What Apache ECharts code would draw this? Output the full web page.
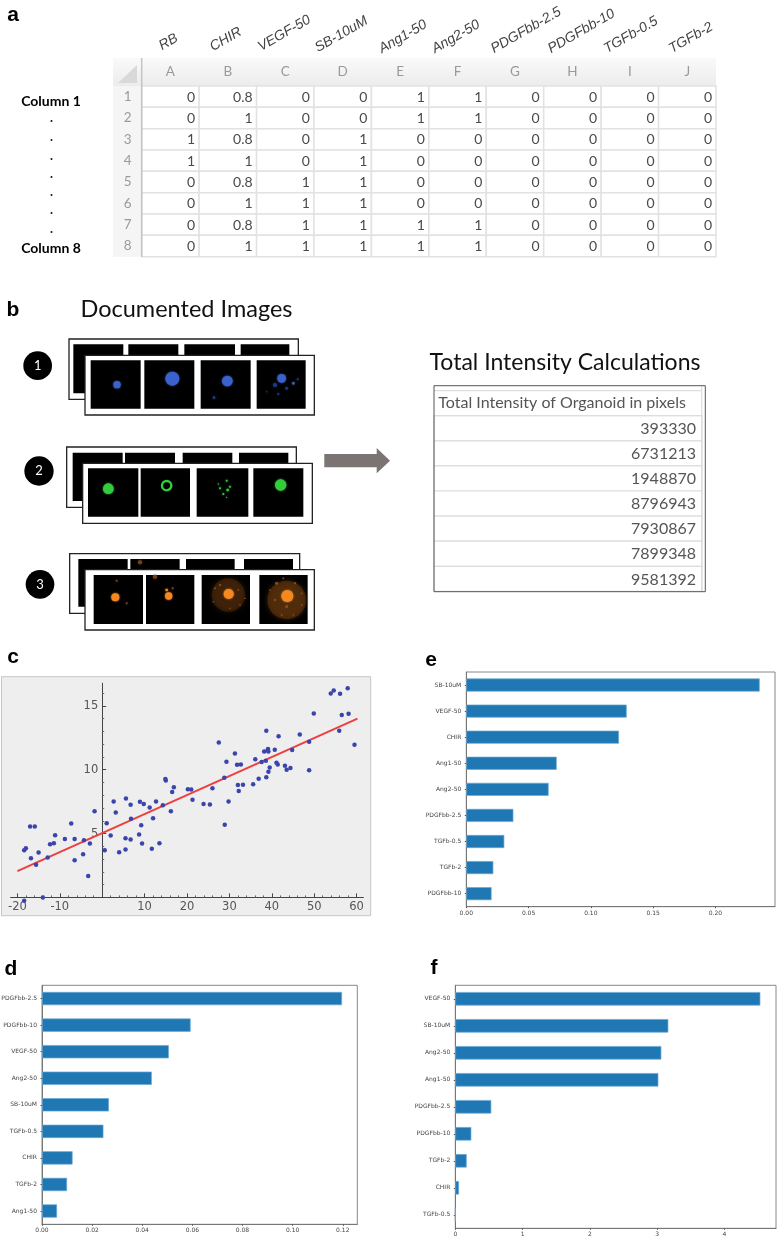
<!DOCTYPE html>
<html><head><meta charset="utf-8">
<style>html,body{margin:0;padding:0;background:#fff}#c{width:777px;height:1239px;filter:blur(0.35px)}</style>
<script src="https://cdn.jsdelivr.net/npm/echarts@6/dist/echarts.min.js"></script>
</head><body><div id="c"></div>
<script>
// ---------- data ----------
const columnLetters = ['A','B','C','D','E','F','G','H','I','J'];
const rowNumbers = ['1','2','3','4','5','6','7','8'];
const factorNames = ['RB','CHIR','VEGF-50','SB-10uM','Ang1-50','Ang2-50','PDGFbb-2.5','PDGFbb-10','TGFb-0.5','TGFb-2'];
const row1 = [0,0.8,0,0,1,1,0,0,0,0];
const row2 = [0,1,0,0,1,1,0,0,0,0];
const row3 = [1,0.8,0,1,0,0,0,0,0,0];
const row4 = [1,1,0,1,0,0,0,0,0,0];
const row5 = [0,0.8,1,1,0,0,0,0,0,0];
const row6 = [0,1,1,1,0,0,0,0,0,0];
const row7 = [0,0.8,1,1,1,1,0,0,0,0];
const row8 = [0,1,1,1,1,1,0,0,0,0];
const intensityValues = [393330,6731213,1948870,8796943,7930867,7899348,9581392];

const scatterX = [-18.4,-18.0,-17.0,-15.9,-16.8,-15.6,-15.0,-12.85,-12.3,-11.4,-11.1,-8.8,-7.3,-6.5,-6.5,-4.3,-4.5,-3.3,-2.9,-1.8,-14.0,-18.4,0.6,1.06,2.0,2.7,3.2,4.0,5.6,5.5,5.5,6.7,6.8,6.7,8.9,9.8,8.7,9.2,9.4,11.2,12.0,11.7,12.7,13.5,14.3,14.9,15.0,16.2,16.5,16.9,20.2,21.0,21.3,23.9,25.4,26.0,27.5,28.9,28.8,29.3,29.8,31.3,31.8,32.7,32.0,32.2,33.2,35.6,36.1,36.9,37.6,38.2,38.6,38.7,38.7,39.0,39.1,39.2,39.2,39.5,40.7,41.1,41.4,41.6,43.1,43.5,44.4,44.8,46.6,48.8,48.8,49.9,53.9,54.6,56.1,57.9,55.9,56.5,58.1,59.5];
const scatterY = [3.69,3.85,5.55,5.55,3.07,2.55,3.51,3.12,4.16,4.24,4.87,4.58,5.78,4.58,2.91,4.48,3.38,1.68,4.22,6.75,0.0,-0.27,3.69,5.81,4.84,7.5,6.64,3.54,7.74,4.63,3.75,7.25,6.15,4.53,7.48,7.32,4.92,5.65,4.22,7.04,6.2,3.8,7.5,4.24,7.22,9.26,9.15,6.75,8.26,8.63,8.47,8.45,7.64,7.32,7.27,8.55,12.13,5.68,9.36,10.61,7.5,11.27,10.38,10.4,8.79,8.32,8.81,8.86,10.82,9.28,10.59,11.42,10.69,13.04,9.41,11.5,11.61,11.42,9.83,10.17,11.55,10.54,10.4,12.62,10.3,9.99,10.12,11.53,12.75,12.18,9.96,14.4,15.97,16.2,15.94,16.38,13.04,14.27,14.37,11.94];
const fitLine = [[-20,2.05],[60.2,14.0]];
const scatterXTicks = [-20,-10,0,10,20,30,40,50,60];
const scatterYTicks = [5,10,15];
const scatterXMinor = [-18,-16,-14,-12,-8,-6,-4,-2,2,4,6,8,12,14,16,18,22,24,26,28,32,34,36,38,42,44,46,48,52,54,56,58];
const scatterYMinor = [1,2,3,4,6,7,8,9,11,12,13,14,16];

const panelENames = ['SB-10uM','VEGF-50','CHIR','Ang1-50','Ang2-50','PDGFbb-2.5','TGFb-0.5','TGFb-2','PDGFbb-10'];
const panelEValues = [0.2356,0.1288,0.1226,0.0726,0.0661,0.0378,0.0305,0.0217,0.0203];
const panelETicks = [0,0.05,0.10,0.15,0.20];
const panelDNames = ['PDGFbb-2.5','PDGFbb-10','VEGF-50','Ang2-50','SB-10uM','TGFb-0.5','CHIR','TGFb-2','Ang1-50'];
const panelDValues = [0.1197,0.0593,0.0506,0.0438,0.0267,0.0245,0.0122,0.0100,0.0060];
const panelDTicks = [0,0.02,0.04,0.06,0.08,0.10,0.12];
const panelFNames = ['VEGF-50','SB-10uM','Ang2-50','Ang1-50','PDGFbb-2.5','PDGFbb-10','TGFb-2','CHIR','TGFb-0.5'];
const panelFValues = [4.535,3.167,3.063,3.019,0.535,0.238,0.169,0.055,0];
const panelFTicks = [0,1,2,3,4];

// ---------- helpers ----------
const SANS = '"Liberation Sans",Arial,sans-serif';
const CAL = 'Lato,"Open Sans",sans-serif';
const tableRows = [row1,row2,row3,row4,row5,row6,row7,row8];
const tableData = [];
tableRows.forEach((r,ri)=>r.forEach((v,ci)=>tableData.push([ci,ri,v])));
const cellRender = (font,pad,stroke,lw,fill)=>(params,api)=>{
  const c = api.coord([api.value(0),api.value(1)]);
  const s = api.size([1,1]);
  return {type:'group',children:[
    {type:'rect',shape:{x:c[0]-s[0]/2,y:c[1]-s[1]/2,width:s[0],height:s[1]},style:{fill:'#fff',stroke,lineWidth:lw}},
    {type:'text',x:c[0]+s[0]/2-pad,y:c[1]+0.5,style:{text:String(api.value(2)),align:'right',verticalAlign:'middle',font,fill}}
  ]};
};

const g = [];
const rect=(x,y,w,h,fill,stroke,lw,extra)=>g.push(Object.assign({type:'rect',silent:true,shape:{x,y,width:w,height:h},style:{fill,stroke:stroke||null,lineWidth:lw||0},z:-1},extra||{}));
const text=(t,x,y,font,fill,align,extra)=>g.push(Object.assign({type:'text',silent:true,x,y,style:{text:t,font,fill:fill||'#000',align:align||'left',verticalAlign:'middle'},z:5},extra||{}));

// panel letters
[['a',13,15],['b',13,310],['c',13,657],['d',11,969],['e',431,660],['f',434,968]].forEach(p=>text(p[0],p[1],p[2],'bold 21px '+SANS,'#000','center'));

// panel a: labels and spreadsheet chrome
text('Column 1',51,101,'bold 14px '+CAL,'#000','center');
text('Column 8',51,248,'bold 14px '+CAL,'#000','center');
[121,140,159,177,195,213,232].forEach(y=>g.push({type:'circle',silent:true,shape:{cx:51.5,cy:y,r:1},style:{fill:'#111'},z:5}));
const factorStart = [[160,47],[211,48],[259,48],[316,49],[380,50],[433,50],[492,50],[549,50],[605,50],[670,50]];
factorNames.forEach((n,i)=>text(n,factorStart[i][0],factorStart[i][1],'italic 14px '+SANS,'#444','left',{rotation:Math.PI/6}));
rect(113,58,603,28,{type:'linear',x:0,y:0,x2:0,y2:1,colorStops:[{offset:0,color:'#fafafa'},{offset:1,color:'#ececec'}]});
rect(113,86,28.7,170.7,'#f5f5f5');
g.push({type:'polygon',silent:true,shape:{points:[[118,83],[137,65],[137,83]]},style:{fill:'#d9d9d9'},z:-1});
g.push({type:'line',silent:true,shape:{x1:141.7,y1:58,x2:141.7,y2:257},style:{stroke:'#c4c4c4',lineWidth:1.5},z:4});

// panel b
text('Documented Images',186.5,309,'23.5px '+CAL,'#111','center');
const frame=(x,y,w,h)=>rect(x,y,w,h,'#fff','#222',1.3,{z:1});
const sq=(x1,x2,y1,y2,z)=>rect(x1/3,290+y1/3,(x2-x1)/3,(y2-y1)/3,'#000',null,0,{z});
const blob=(x,y,r,color,z,blur,op)=>g.push({type:'circle',silent:true,shape:{cx:x/3,cy:290+y/3,r:r/3},style:{fill:color,shadowBlur:blur||2,shadowColor:color,opacity:op==null?1:op},z:z||3});
const stack=(back,front,backSq,backY,frontSq,frontY)=>{
  frame(back[0]/3,290+back[2]/3,(back[1]-back[0])/3,(back[3]-back[2])/3);
  backSq.forEach(s=>sq(s[0],s[1],backY[0],backY[1],1.5));
  rect(front[0]/3,290+front[2]/3,(front[1]-front[0])/3,(front[3]-front[2])/3,'#fff','#222',1.3,{z:2});
  frontSq.forEach(s=>sq(s[0],s[1],frontY[0],frontY[1],2.5));
};
stack([207,895,147,328],[255,943,196,375],[[220,370],[385,535],[553,705],[722,868]],[163,310],[[272,422],[433,583],[602,752],[770,917]],[211,356]);
stack([200,889,471,652],[248,937,520,700],[[218,368],[375,525],[548,697],[717,865]],[488,633],[[264,415],[422,570],[590,745],[760,910]],[535,680]);
stack([209,899,791,970],[255,943,839,1020],[[235,383],[391,539],[558,704],[732,879]],[807,950],[[281,429],[438,583],[605,750],[778,923]],[855,1002]);
const BLUE='#3b62cc',DBLUE='#1d3a86',GREEN='#33cc3a',ORG='#f5881f',DORG='#7a4210';
[[351,284,11,BLUE],[517,266,21,BLUE],[682,273,16,BLUE],[642,323,4,DBLUE],[845,265,13,BLUE],[825,285,6,DBLUE],[880,280,4,BLUE],[893,268,3,DBLUE],[860,295,4,DBLUE],[835,312,3,DBLUE],[800,305,2,DBLUE]].forEach(b=>blob(b[0],b[1],b[2],b[3]));
[[325,596,16,GREEN],[842,585,17,GREEN],[660,595,3,GREEN],[680,572,3,GREEN],[683,600,4,GREEN],[670,612,3,GREEN],[690,590,3,GREEN],[680,622,2,GREEN],[655,582,2,GREEN]].forEach(b=>blob(b[0],b[1],b[2],b[3]));
g.push({type:'circle',silent:true,shape:{cx:500/3,cy:290+587/3,r:14/3},style:{fill:'rgba(0,0,0,0)',stroke:GREEN,lineWidth:2.4},z:3});
[[685,915,50,DORG,0.3],[860,930,58,DORG,0.42]].forEach(b=>blob(b[0],b[1],b[2],b[3],3,5,b[4]));
[[645,895,2.5],[660,885,3],[715,900,2.5],[735,925,2],[640,935,2],[690,955,2],[720,945,2],[830,880,4],[850,865,2.5],[885,880,3],[905,910,2.5],[905,945,2.5],[880,975,2],[845,975,2.5],[825,930,3],[810,900,2],[860,950,4]].forEach(d=>blob(d[0],d[1],d[2],'#8a4d18',3.2,1));
[[346,922,12,ORG],[506,918,11,ORG],[500,900,4,ORG],[518,895,3,DORG],[465,860,6,DORG],[350,872,3,DORG],[380,940,3,DORG],[686,912,15,ORG],[862,918,18,ORG],[420,817,6,DORG]].forEach(b=>blob(b[0],b[1],b[2],b[3],3.5));
[[1,113,227,43],[2,117,543,44],[3,120,883,43]].forEach(c=>{
  g.push({type:'circle',silent:true,shape:{cx:c[1]/3,cy:290+c[2]/3,r:c[3]/3},style:{fill:'#000'},z:4});
  text(String(c[0]),c[1]/3,290+c[2]/3,'13px '+CAL,'#fff','center');
});
g.push({type:'polygon',silent:true,shape:{points:[[324.3,454],[376.7,454],[376.7,448],[390,460.7],[376.7,473.3],[376.7,467.3],[324.3,467.3]]},style:{fill:'#7b7473'},z:2});

text('Total Intensity Calculations',565,362.5,'23px '+CAL,'#111','center');
rect(434,390.5,268,25.2,'#fff');
text('Total Intensity of Organoid in pixels',438.3,403.3,'16px '+CAL,'#555');
[390.7,415.7].forEach(y=>g.push({type:'line',silent:true,shape:{x1:434,y1:y,x2:702,y2:y},style:{stroke:'#ddd',lineWidth:1.2},z:3}));
g.push({type:'line',silent:true,shape:{x1:701.7,y1:386,x2:701.7,y2:591},style:{stroke:'#ddd',lineWidth:1.2},z:3});
rect(434,385.7,271.3,206,'rgba(0,0,0,0)','#555',1,{z:6});

// panel c background
rect(1.5,676.7,369.2,239,'#eeeeee','#c6c6c6',1);

// ---------- axes & grids ----------
const box={show:true,borderColor:'#888',borderWidth:1};
const grid=[
  {left:141.7,top:86,width:574.3,height:170.7},
  {left:434,top:415.7,width:268,height:175.7},
  {left:10.6,top:683.3,width:352.8,height:214.1},
  Object.assign({left:466.3,top:672,width:308.7,height:234.7},box),
  Object.assign({left:42,top:985.3,width:315.3,height:239},box),
  Object.assign({left:455.3,top:985.3,width:320.7,height:243},box)
].map(o=>Object.assign(o,{outerBoundsMode:'none'}));
const none={show:false};
const yAxisShift=-(21.6*352.8/83.2); // places the y axis at x = 0 of the scatter scale
const xAxis=[
  {gridIndex:0,type:'category',position:'top',data:columnLetters,axisLine:none,axisTick:none,axisLabel:{color:'#9a9a9a',fontFamily:CAL,fontSize:13.5,margin:7}},
  {gridIndex:1,type:'category',data:['v'],show:false},
  {gridIndex:2,type:'value',min:-21.6,max:61.6,position:'bottom',splitLine:none,z:3,
   axisLine:{onZero:false,lineStyle:{color:'#444',width:1}},
   axisTick:{inside:true,length:4,customValues:scatterXTicks,lineStyle:{color:'#444'}},
   axisLabel:{customValues:scatterXTicks.filter(v=>v!==0),color:'#555',fontFamily:'"DejaVu Sans"',fontSize:11.5,margin:4,formatter:v=>String(v)}},
  {gridIndex:2,type:'value',min:-21.6,max:61.6,position:'bottom',splitLine:none,z:3,
   axisLine:{show:false,onZero:false},axisLabel:none,axisTick:{inside:true,length:2,customValues:scatterXMinor,lineStyle:{color:'#666'}}}
];
const yAxis=[
  {gridIndex:0,type:'category',inverse:true,data:rowNumbers,axisLine:none,axisTick:none,axisLabel:{color:'#9a9a9a',fontFamily:CAL,fontSize:13.5,margin:10}},
  {gridIndex:1,type:'category',inverse:true,data:intensityValues.map((v,i)=>String(i+1)),show:false},
  {gridIndex:2,type:'value',min:0,max:16.76,position:'left',offset:yAxisShift,splitLine:none,z:3,
   axisLine:{onZero:false,lineStyle:{color:'#444',width:1}},
   axisTick:{inside:true,length:4,customValues:scatterYTicks,lineStyle:{color:'#444'}},
   axisLabel:{customValues:scatterYTicks,color:'#555',fontFamily:'"DejaVu Sans"',fontSize:11.5,margin:4,formatter:v=>String(v)}},
  {gridIndex:2,type:'value',min:0,max:16.76,position:'left',offset:yAxisShift,splitLine:none,z:3,
   axisLine:{show:false,onZero:false},axisLabel:none,axisTick:{inside:true,length:2,customValues:scatterYMinor,lineStyle:{color:'#666'}}}
];
const series=[
  {type:'custom',xAxisIndex:0,yAxisIndex:0,data:tableData,encode:{x:0,y:1},renderItem:cellRender('14px '+CAL,4,'#e2e2e2',1.5,'#4a4a4a')},
  {type:'custom',xAxisIndex:1,yAxisIndex:1,data:intensityValues.map((v,i)=>[0,i,v]),encode:{x:0,y:1},renderItem:cellRender('16px '+CAL,6,'#ddd',1.2,'#555')},
  {type:'line',xAxisIndex:2,yAxisIndex:2,data:fitLine,showSymbol:false,symbol:'none',lineStyle:{color:'#ef3e3e',width:2},z:3},
  {type:'scatter',xAxisIndex:2,yAxisIndex:2,data:scatterX.map((x,i)=>[x,scatterY[i]]),symbolSize:4.5,clip:false,itemStyle:{color:'#3a44ad',opacity:1},z:4}
];
function barPanel(gi,names,values,ticks,max,fmt){
  const xi=xAxis.length, yi=yAxis.length;
  xAxis.push({gridIndex:gi,type:'value',min:0,max,splitLine:none,
    axisLine:{show:true,onZero:false,lineStyle:{color:'#777'}},
    axisTick:{show:true,length:1.5,customValues:ticks,lineStyle:{color:'#555'}},
    axisLabel:{customValues:ticks,color:'#444',fontFamily:'"DejaVu Sans"',fontSize:6,margin:3.5,formatter:fmt}});
  yAxis.push({gridIndex:gi,type:'category',inverse:true,data:names,
    axisLine:{show:true,lineStyle:{color:'#777'}},axisTick:{show:true,length:1.5,alignWithLabel:true,lineStyle:{color:'#555'}},
    axisLabel:{color:'#444',fontFamily:'"DejaVu Sans"',fontSize:6,margin:5}});
  series.push({type:'bar',xAxisIndex:xi,yAxisIndex:yi,data:values,barWidth:'50%',itemStyle:{color:'#1f77b4',borderColor:'#6aa9d6',borderWidth:0.7}});
}
barPanel(3,panelENames,panelEValues,panelETicks,0.2479,v=>v.toFixed(2));
barPanel(4,panelDNames,panelDValues,panelDTicks,0.1258,v=>v.toFixed(2));
barPanel(5,panelFNames,panelFValues,panelFTicks,4.768,v=>String(v));

const chart=echarts.init(document.getElementById('c'),null,{renderer:'canvas',width:777,height:1239});
chart.setOption({backgroundColor:'#fff',animation:false,grid,xAxis,yAxis,series,graphic:{elements:g}});
</script></body></html>
